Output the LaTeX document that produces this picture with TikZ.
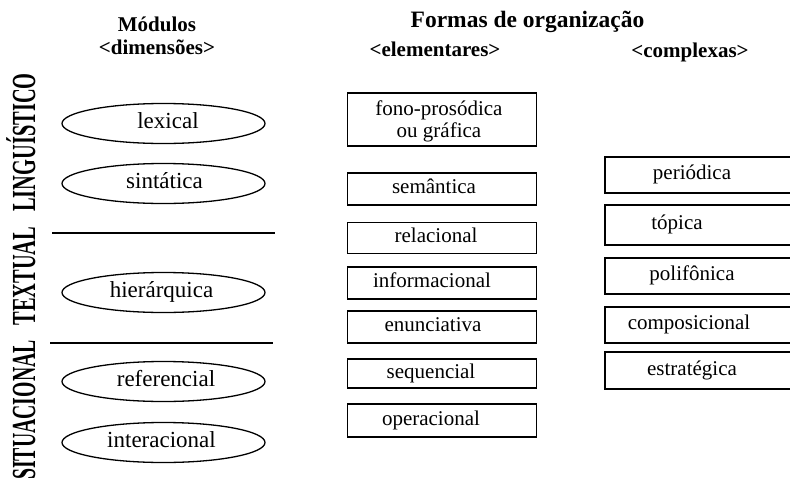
\documentclass[tikz,border=0pt]{standalone}
\usepackage{fontspec}
\setmainfont{Liberation Serif}
\usetikzlibrary{shapes.geometric}
\begin{document}
\begin{tikzpicture}[x=1pt,y=-1pt,
  ell/.style={ellipse,draw,line width=1.3pt,minimum width=203pt,minimum height=40pt,inner sep=0pt,
    font=\fontsize{23}{26}\selectfont,text height=15.5pt,text depth=5pt},
  ebox/.style={draw,line width=1.8pt,minimum width=189pt,inner sep=0pt},
  cbox/.style={minimum width=280pt,inner sep=0pt,anchor=west},
  cline/.style={line width=1.8pt},
  btext/.style={inner sep=0pt,font=\fontsize{21}{22}\selectfont,text height=14pt,text depth=4.5pt},
  head/.style={font=\bfseries\fontsize{21}{24}\selectfont,inner sep=0pt,anchor=base},
  title/.style={font=\bfseries\fontsize{23.5}{26}\selectfont,inner sep=0pt,anchor=base},
  side/.style={rotate=90,anchor=base,inner sep=0pt,font=\bfseries\fontsize{20.4}{24}\selectfont},
  sepline/.style={line width=1.6pt}]
\useasboundingbox (0,0) rectangle (790,482);
\clip (0,0) rectangle (790,482);

% headers
\node[head] (mod) at (157,31) {Módulos};
\node[head] (dim) at (157,54) {<dimensões>};
\node[title] (formas) at (527.5,27) {Formas de organização};
\node[head] (elem) at (435,56) {<elementares>};
\node[head] (compl) at (690,57) {<complexas>};

% side labels
\node[side] (ling) at (35,142.5) {\scalebox{1}[1.65]{LINGUÍSTICO}};
\node[side] (text) at (35,276) {\scalebox{1}[1.65]{TEXTUAL}};
\node[side] (sit) at (35,410) {\scalebox{0.97}[1.65]{SITUACIONAL}};

% separators
\coordinate (s1a) at (52,233);
\coordinate (s1b) at (275,233);
\coordinate (s2a) at (50,343);
\coordinate (s2b) at (273,343);
\draw[sepline] (s1a) -- (s1b);
\draw[sepline] (s2a) -- (s2b);

% modules
\node[ell] (lex) at (163.5,123.5) {\hspace*{9pt}lexical};
\node[ell] (sint) at (163.5,183.5) {\hspace*{2pt}sintática};
\node[ell] (hier) at (163.5,292.5) {hierárquica\hspace*{4pt}};
\node[ell] (ref) at (163.5,381.5) {\hspace*{5pt}referencial};
\node[ell] (inter) at (163.5,442.5) {interacional\hspace*{4pt}};

% elementary forms
\node[ebox,minimum height=53pt] (fonob) at (442,119.5) {};
\node[btext,align=center,text height=,text depth=] (fono) at (439,121) {fono-prosódica\\ou gráfica};
\node[ebox,minimum height=32pt] (semb) at (442,189) {};
\node[btext] (sem) at (434,189) {semântica};
\node[ebox,minimum height=31pt] (relb) at (442,238) {};
\node[btext] (rel) at (436,238) {relacional};
\node[ebox,minimum height=32pt] (infb) at (442,283) {};
\node[btext] (inf) at (432,283) {informacional};
\node[ebox,minimum height=32pt] (enub) at (442,327) {};
\node[btext] (enu) at (433,327) {enunciativa};
\node[ebox,minimum height=29pt] (seqb) at (442,373.5) {};
\node[btext] (seq) at (431,373.5) {sequencial};
\node[ebox,minimum height=33pt] (opb) at (442,420.5) {};
\node[btext] (op) at (431,420.5) {operacional};

% complex forms (boxes run past the right edge)
\node[cbox,minimum height=36pt] (perb) at (605,175) {};
\node[btext] (per) at (692,175) {periódica};
\node[cbox,minimum height=40pt] (topb) at (605,225) {};
\node[btext] (top) at (677,225) {tópica};
\node[cbox,minimum height=36pt] (polb) at (605,276) {};
\node[btext] (pol) at (692,276) {polifônica};
\node[cbox,minimum height=36pt] (comb) at (605,325) {};
\node[btext] (com) at (689,325) {composicional};
\node[cbox,minimum height=37pt] (estb) at (605,370.5) {};
\node[btext] (est) at (692,370.5) {estratégica};
\foreach \b in {perb,topb,polb,comb,estb}{
  \draw[cline] (\b.north east) -- (\b.north west) -- (\b.south west) -- (\b.south east);
}
\end{tikzpicture}
\end{document}
